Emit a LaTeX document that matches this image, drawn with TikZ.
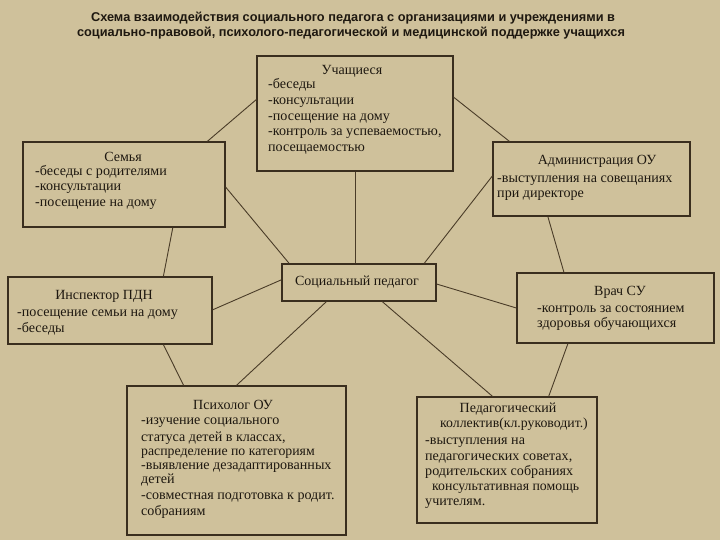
\documentclass[tikz,border=0pt]{standalone}
\usepackage{fontspec}
\setmainfont{Liberation Serif}
\newfontfamily\titlefont{Liberation Sans}
\usetikzlibrary{calc}
\definecolor{bg}{HTML}{CFC19B}
\definecolor{edge}{HTML}{3A2E1E}
\definecolor{wire}{HTML}{4A3C28}
\definecolor{ink}{HTML}{1E1810}
\begin{document}
\begin{tikzpicture}[x=1pt,y=-1pt,
  box/.style={draw=edge,line width=1.3pt,fill=bg,rectangle,inner sep=0pt},
  link/.style={draw=wire,line width=0.9pt},
  item/.style={anchor=base west,inner sep=0pt,text=ink,font=\fontsize{14.1}{15}\selectfont},
  smallitem/.style={item,font=\fontsize{13.8}{14}\selectfont},
  head/.style={anchor=base,inner sep=0pt,text=ink,font=\fontsize{14}{15}\selectfont},
  ttl/.style={anchor=base,inner sep=0pt,text=ink,font=\titlefont\bfseries\fontsize{12.75}{14}\selectfont}]
\fill[bg] (0,0) rectangle (720,540);
\useasboundingbox (0,0) rectangle (720,540);

\node[ttl] (t1) at (353,22) {Схема взаимодействия социального педагога с организациями и учреждениями в};
\node[ttl] (t2) at (351,37) {социально-правовой, психолого-педагогической и медицинской поддержке учащихся};

% boxes
\node[box,minimum width=196pt,minimum height=115pt] (ucha) at (355,113.5) {};
\node[box,minimum width=202pt,minimum height=85pt] (semya) at (124,184.5) {};
\node[box,minimum width=197pt,minimum height=74pt] (adm) at (591.5,179) {};
\node[box,minimum width=154pt,minimum height=37pt] (soc) at (359,282.5) {};
\node[box,minimum width=204pt,minimum height=67pt] (insp) at (110,310.5) {};
\node[box,minimum width=197pt,minimum height=70pt] (vrach) at (615.5,308) {};
\node[box,minimum width=219pt,minimum height=149pt] (psy) at (236.5,460.5) {};
\node[box,minimum width=180pt,minimum height=126pt] (ped) at (507,460) {};

% connectors
\draw[link] ($(semya.north west)!0.91!(semya.north east)$) -- ($(ucha.north west)!0.38!(ucha.south west)$);
\draw[link] ($(ucha.north east)!0.36!(ucha.south east)$) -- ($(adm.north west)!0.086!(adm.north east)$);
\draw[link] (ucha.south) -- (ucha.south |- soc.north);
\draw[link] ($(semya.north east)!0.53!(semya.south east)$) -- ($(soc.north west)!0.05!(soc.north east)$);
\draw[link] ($(adm.north west)!0.46!(adm.south west)$) -- ($(soc.north west)!0.92!(soc.north east)$);
\draw[link] ($(adm.south west)!0.28!(adm.south east)$) -- ($(vrach.north west)!0.24!(vrach.north east)$);
\draw[link] ($(semya.south west)!0.74!(semya.south east)$) -- ($(insp.north west)!0.76!(insp.north east)$);
\draw[link] ($(insp.north east)!0.49!(insp.south east)$) -- ($(soc.north west)!0.43!(soc.south west)$);
\draw[link] ($(soc.north east)!0.54!(soc.south east)$) -- ($(vrach.north west)!0.5!(vrach.south west)$);
\draw[link] ($(soc.south west)!0.29!(soc.south east)$) -- ($(psy.north west)!0.5!(psy.north east)$);
\draw[link] ($(soc.south west)!0.65!(soc.south east)$) -- ($(ped.north west)!0.42!(ped.north east)$);
\draw[link] ($(insp.south west)!0.76!(insp.south east)$) -- ($(psy.north west)!0.26!(psy.north east)$);
\draw[link] ($(vrach.south west)!0.26!(vrach.south east)$) -- ($(ped.north west)!0.73!(ped.north east)$);

% texts
\node[head] (uh) at (352,74.5) {Учащиеся};
\foreach \t [count=\i] in {-беседы,-консультации,-посещение на дому,{-контроль за успеваемостью,},посещаемостью}
  \node[item] (u\i) at (268,{88.5+(\i-1)*15.8}) {\t};

\node[head] (sh) at (123,161.5) {Семья};
\foreach \t [count=\i] in {-беседы с родителями,-консультации,-посещение на дому}
  \node[item] (s\i) at (35,{175.5+(\i-1)*15.5}) {\t};

\node[head] (ah) at (597,164.5) {Администрация ОУ};
\foreach \t [count=\i] in {-выступления на совещаниях,при директоре}
  \node[item] (a\i) at (497,{182.5+(\i-1)*14.5}) {\t};

\node[head] (soct) at (357,285.5) {Социальный педагог};

\node[head] (ih) at (104,299.5) {Инспектор ПДН};
\foreach \t [count=\i] in {-посещение семьи на дому,-беседы}
  \node[item] (i\i) at (17,{316.5+(\i-1)*16}) {\t};

\node[head] (vh) at (620,295.5) {Врач СУ};
\foreach \t [count=\i] in {-контроль за состоянием,здоровья обучающихся}
  \node[item] (v\i) at (537,{312.5+(\i-1)*15}) {\t};

\node[head] (ph) at (233,409.5) {Психолог ОУ};
\node[item] (p1) at (141,424.5) {-изучение социального};
\node[item] (p2) at (141,441) {статуса детей в классах,};
\node[smallitem] (p3) at (141,455) {распределение по категориям};
\node[item] (p4) at (141,469.5) {-выявление дезадаптированных};
\node[item] (p5) at (141,483.5) {детей};
\node[item] (p6) at (141,499.5) {-совместная подготовка к родит.};
\node[item] (p7) at (141,515) {собраниям};

\node[head] (gh) at (508,412.5) {Педагогический};
\node[smallitem,anchor=base] (g0) at (514,427) {коллектив(кл.руководит.)};
\node[item] (g1) at (425,444.5) {-выступления на};
\node[item] (g2) at (425,460.5) {педагогических советах,};
\node[item] (g3) at (425,475.5) {родительских собраниях};
\node[smallitem] (g4) at (432,490) {консультативная помощь};
\node[item] (g5) at (425,505.5) {учителям.};
\end{tikzpicture}
\end{document}
